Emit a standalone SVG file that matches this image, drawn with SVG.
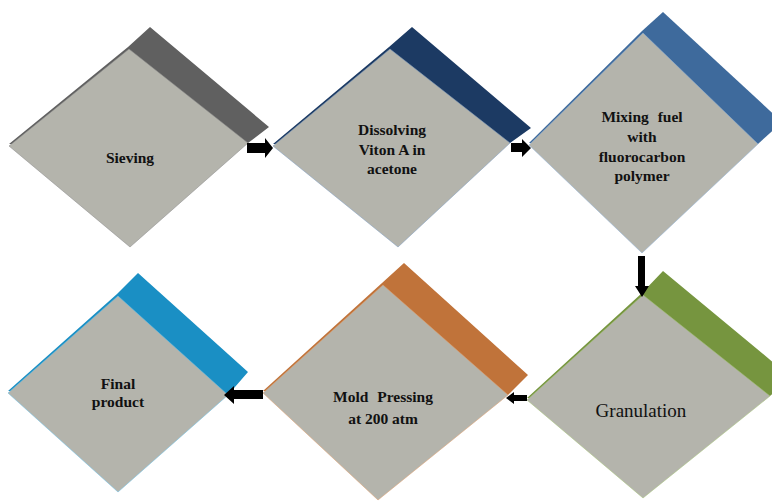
<svg xmlns="http://www.w3.org/2000/svg" width="772" height="502" viewBox="0 0 772 502">
<style>
.face{fill:#b4b4ac;stroke-width:1;stroke-opacity:0.55}
.t{font-family:"Liberation Serif","Times New Roman","Noto Serif","DejaVu Serif",serif;font-weight:700;font-size:15.5px;fill:#111;text-anchor:middle}
.tl{font-family:"Liberation Serif","Times New Roman",serif;font-size:19px;fill:#111;text-anchor:middle}
.ws{word-spacing:5px}
.arr{fill:#000}
</style>
<rect width="772" height="502" fill="#ffffff"/>
<g id="n1">
<polygon points="9,144 128,47 150,27 269,127 248,143" fill="#606060"/>
<polygon class="face" stroke="#8a8a8a" points="9,146 129,49 248,143 130,247"/>
<text class="t" x="130" y="163">Sieving</text>
</g>
<g id="n2">
<polygon points="273,144 389,47 412,27 531,128 510,143" fill="#1c3a63"/>
<polygon class="face" stroke="#7f9cc0" points="273,146 390,49 510,143 398,247"/>
<text class="t" x="392" y="135">Dissolving</text>
<text class="t" x="392" y="155">Viton A in</text>
<text class="t" x="392" y="174">acetone</text>
</g>
<g id="n3">
<polygon points="529,143 642,31 663,12 782,122 758,144" fill="#3e6a9c"/>
<polygon class="face" stroke="#8fb0d6" points="529,145 643,33 758,144 642,253"/>
<text class="t ws" x="642" y="122">Mixing fuel</text>
<text class="t" x="642" y="142">with</text>
<text class="t" x="642" y="162">fluorocarbon</text>
<text class="t" x="642" y="181">polymer</text>
</g>
<g id="n4">
<polygon points="527,398 642,293 663,271 792,378 770,396" fill="#76953f"/>
<polygon class="face" stroke="#a5c27a" points="527,400 643,295 770,396 643,498"/>
<text class="tl" x="641" y="417">Granulation</text>
</g>
<g id="n5">
<polygon points="263,391 382,283 404,263 528,375 508,395" fill="#c0733a"/>
<polygon class="face" stroke="#e0a070" points="263,393 383,285 508,395 378,500"/>
<text class="t ws" x="383" y="402">Mold Pressing</text>
<text class="t" x="383" y="424">at 200 atm</text>
</g>
<g id="n6">
<polygon points="8,391 117,294 138,273 248,372 228,395" fill="#1a8fc4"/>
<polygon class="face" stroke="#6cc0e6" points="8,393 118,296 228,395 118,492"/>
<text class="t" x="118" y="389">Final</text>
<text class="t" x="118" y="407">product</text>
</g>
<g id="connectors">
<polygon class="arr" points="247,143 265,143 265,138 273,148 265,158 265,153 247,153"/>
<polygon class="arr" points="511,143 522,143 522,139 531,148 522,157 522,152 511,152"/>
<polygon class="arr" points="638,256 645,256 645,286 649,286 642,297 635,286 638,286"/>
<polygon class="arr" points="527,395 514,395 514,392 506,398 514,404 514,401 527,401"/>
<polygon class="arr" points="263,390 234,390 234,386 224,395 234,404 234,399 263,399"/>
</g>
</svg>
